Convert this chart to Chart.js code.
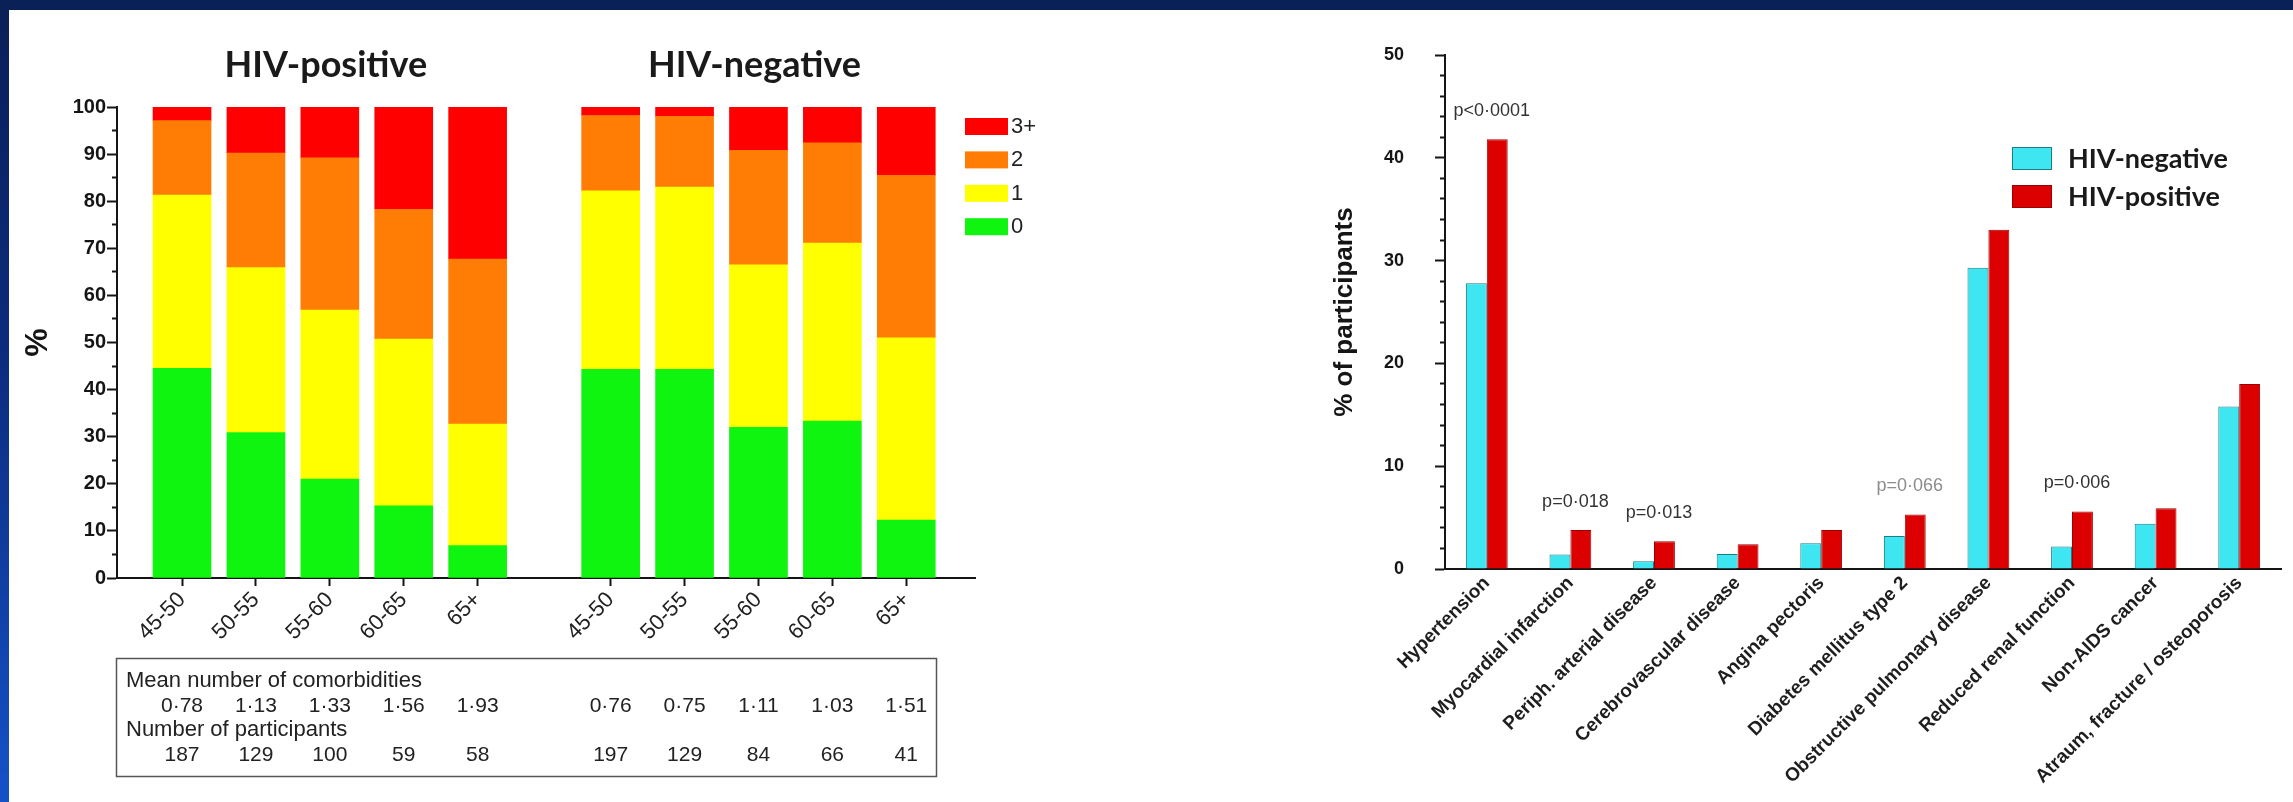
<!DOCTYPE html>
<html>
<head>
<meta charset="utf-8">
<script src="https://cdn.jsdelivr.net/npm/chart.js@4.4.1/dist/chart.umd.min.js"></script>
<style>
html,body{margin:0;padding:0;width:2293px;height:802px;overflow:hidden;}
body{position:relative;background:linear-gradient(to bottom,#0a1f57 0%,#0c2c7e 45%,#1552c8 100%);}
#topband{position:absolute;left:0;top:0;width:2293px;height:10px;background:#0a2157;}
#panel{position:absolute;left:9px;top:10px;right:0;bottom:0;background:#ffffff;}
#left{position:absolute;left:0;top:0;}
#right{position:absolute;left:1300px;top:0;}
</style>
</head>
<body>
<div id="topband"></div>
<div id="panel"></div>
<canvas id="left" width="1100" height="802"></canvas>
<canvas id="right" width="993" height="802"></canvas>
<script>
// ---------------- DATA: left chart (number of comorbidities by age group) ----------------
const ageGroups = ['45-50', '50-55', '55-60', '60-65', '65+'];
const cohorts = ['HIV-positive', 'HIV-negative'];
const comorbidityLevels = ['0', '1', '2', '3+'];
// % of participants with 0 / 1 / 2 / 3+ comorbidities
const hivPosLevel0 = [44.5, 30.9, 21.0, 15.3, 6.9];
const hivPosLevel1 = [36.8, 35.0, 35.9, 35.4, 25.8];
const hivPosLevel2 = [15.8, 24.3, 32.3, 27.6, 35.0];
const hivPosLevel3 = [2.9, 9.8, 10.8, 21.7, 32.3];
const hivNegLevel0 = [44.3, 44.3, 32.0, 33.3, 12.3];
const hivNegLevel1 = [37.9, 38.7, 34.5, 37.8, 38.7];
const hivNegLevel2 = [16.0, 15.0, 24.3, 21.3, 34.5];
const hivNegLevel3 = [1.8, 2.0, 9.2, 7.6, 14.5];
// table under the chart
const meanRowLabel = 'Mean number of comorbidities';
const countRowLabel = 'Number of participants';
const hivPosMean = ['0·78', '1·13', '1·33', '1·56', '1·93'];
const hivNegMean = ['0·76', '0·75', '1·11', '1·03', '1·51'];
const hivPosCount = [187, 129, 100, 59, 58];
const hivNegCount = [197, 129, 84, 66, 41];
const leftYTicks = [0, 10, 20, 30, 40, 50, 60, 70, 80, 90, 100];

// ---------------- DATA: right chart (prevalence of comorbidities) ----------------
const conditions = ['Hypertension', 'Myocardial infarction', 'Periph. arterial disease',
  'Cerebrovascular disease', 'Angina pectoris', 'Diabetes mellitus type 2',
  'Obstructive pulmonary disease', 'Reduced renal function', 'Non-AIDS cancer',
  'Atraum, fracture / osteoporosis'];
const hivNegPct = [27.8, 1.4, 0.75, 1.45, 2.5, 3.2, 29.3, 2.2, 4.4, 15.8];
const hivPosPct = [41.8, 3.8, 2.7, 2.4, 3.8, 5.3, 33.0, 5.6, 5.9, 18.0];
const pValues = ['p<0·0001', 'p=0·018', 'p=0·013', '', '', 'p=0·066', '', 'p=0·006', '', ''];
const rightYTicks = [0, 10, 20, 30, 40, 50];

// ---------------- STYLE ----------------
Chart.defaults.font.family = "'Liberation Sans', Arial, sans-serif";
const levelColors = ['#10f510', '#ffff00', '#ff7d04', '#ff0000'];
const INK = '#151515';
const GROUP_GAP = 0.8;
const xPos = (g, i) => g * (ageGroups.length + GROUP_GAP) + i + 1;

const levelSeries = [
  [hivPosLevel0, hivNegLevel0],
  [hivPosLevel1, hivNegLevel1],
  [hivPosLevel2, hivNegLevel2],
  [hivPosLevel3, hivNegLevel3]
];
const leftTickValues = [];
const leftTickLabels = [];
cohorts.forEach((c, g) => ageGroups.forEach((a, i) => { leftTickValues.push(xPos(g, i)); leftTickLabels.push(a); }));

const minorDash = (ctx, major) => (ctx.tick && ctx.tick.value % major !== 0) ? [0, 5, 5, 100] : [];

const leftDecor = {
  id: 'leftDecor',
  afterDraw(chart) {
    const { ctx } = chart;
    const x = chart.scales.x;
    ctx.save();
    // cohort titles
    ctx.font = "bold 36px Lato, 'Liberation Sans', sans-serif";
    ctx.fillStyle = '#1a1a1a';
    ctx.textAlign = 'center';
    ctx.textBaseline = 'alphabetic';
    cohorts.forEach((name, g) => {
      const cx = (x.getPixelForValue(xPos(g, 0)) + x.getPixelForValue(xPos(g, ageGroups.length - 1))) / 2;
      ctx.fillText(name, cx - 4, 77);
    });
    // legend (3+ on top)
    ctx.font = "22px 'Liberation Sans', Arial, sans-serif";
    ctx.textAlign = 'left';
    ctx.textBaseline = 'middle';
    const ds = chart.data.datasets.slice().reverse();
    ds.forEach((d, k) => {
      const top = 118 + k * 33.4;
      ctx.fillStyle = d.backgroundColor;
      ctx.fillRect(965, top, 43, 17);
      ctx.fillStyle = '#222';
      ctx.fillText(d.label, 1011, top + 9);
    });
    // table
    ctx.strokeStyle = '#555';
    ctx.lineWidth = 1.5;
    ctx.strokeRect(116.5, 658.5, 820, 118);
    ctx.fillStyle = '#222';
    ctx.font = "22px 'Liberation Sans', Arial, sans-serif";
    ctx.textAlign = 'left';
    ctx.fillText(meanRowLabel, 126, 681);
    ctx.fillText(countRowLabel, 126, 730);
    ctx.textAlign = 'center';
    ctx.font = "21px 'Liberation Sans', Arial, sans-serif";
    const means = [hivPosMean, hivNegMean];
    const counts = [hivPosCount, hivNegCount];
    cohorts.forEach((c, g) => ageGroups.forEach((a, i) => {
      const px = x.getPixelForValue(xPos(g, i));
      ctx.fillText(means[g][i], px, 706);
      ctx.fillText(String(counts[g][i]), px, 755);
    }));
    ctx.restore();
  }
};

new Chart(document.getElementById('left'), {
  type: 'bar',
  data: {
    datasets: comorbidityLevels.map((lvl, k) => ({
      label: lvl,
      data: cohorts.flatMap((c, g) => levelSeries[k][g].map((v, i) => ({ x: xPos(g, i), y: v }))),
      backgroundColor: levelColors[k],
      borderWidth: 0,
      barThickness: 58
    }))
  },
  options: {
    responsive: false,
    animation: false,
    layout: { padding: { top: 107, right: 125, bottom: 0, left: 0 } },
    plugins: { legend: { display: false }, tooltip: { enabled: false } },
    scales: {
      x: {
        type: 'linear', stacked: true, min: 0.12, max: 11.73, offset: false,
        afterBuildTicks: a => { a.ticks = leftTickValues.map(v => ({ value: v })); },
        afterFit: s => { s.height = 224; },
        grid: { offset: false, drawOnChartArea: false, drawTicks: true, tickLength: 8, tickColor: INK, tickWidth: 2 },
        border: { display: true, color: INK, width: 2 },
        ticks: { autoSkip: false, minRotation: 45, maxRotation: 45, padding: 1, color: '#222',
          font: { size: 22 }, callback: (v, i) => leftTickLabels[i] }
      },
      y: {
        stacked: true, min: 0, max: 100,
        afterBuildTicks: a => { const t = []; for (let v = 0; v <= 100; v += 5) t.push({ value: v }); a.ticks = t; },
        afterFit: s => { s.width = 117; },
        ticks: { autoSkip: false, padding: 1, color: INK, font: { size: 20, weight: 'bold' },
          callback: v => leftYTicks.includes(v) ? String(v) : '' },
        grid: { drawOnChartArea: false, tickLength: 10, tickColor: INK, tickWidth: 2,
          tickBorderDash: ctx => minorDash(ctx, 10) },
        border: { color: INK, width: 2 },
        title: { display: true, text: '%', color: INK, font: { size: 32, weight: 'bold' }, padding: { top: 19, bottom: 0 } }
      }
    }
  },
  plugins: [leftDecor]
});

// ---------------- RIGHT CHART ----------------
const rightDecor = {
  id: 'rightDecor',
  afterDraw(chart) {
    const { ctx } = chart;
    const x = chart.scales.x, y = chart.scales.y;
    ctx.save();
    // p-values
    ctx.font = "18px 'Liberation Sans', Arial, sans-serif";
    ctx.textAlign = 'center';
    ctx.textBaseline = 'middle';
    pValues.forEach((p, i) => {
      if (!p) return;
      const num = parseFloat(p.slice(2).replace('·', '.'));
      ctx.fillStyle = num > 0.05 ? '#8c8c8c' : '#333';
      const top = y.getPixelForValue(Math.max(hivNegPct[i], hivPosPct[i]));
      ctx.fillText(p, x.getPixelForValue(i) + 5, top - 28);
    });
    // legend
    ctx.font = "bold 27px Lato, 'Liberation Sans', sans-serif";
    ctx.textAlign = 'left';
    chart.data.datasets.forEach((d, k) => {
      const top = 147 + k * 38;
      ctx.fillStyle = d.backgroundColor;
      ctx.fillRect(712, top, 40, 23);
      ctx.strokeStyle = d.borderColor;
      ctx.lineWidth = 1;
      ctx.strokeRect(712.5, top + 0.5, 39, 22);
      ctx.fillStyle = '#1a1a1a';
      ctx.fillText(d.label, 768, top + 12);
    });
    ctx.restore();
  }
};

new Chart(document.getElementById('right'), {
  type: 'bar',
  data: {
    labels: conditions,
    datasets: [
      { label: 'HIV-negative', data: hivNegPct, backgroundColor: '#3ee6f2', borderColor: '#1d7d86', borderWidth: 1,
        borderSkipped: 'bottom', categoryPercentage: 0.5, barPercentage: 1.0 },
      { label: 'HIV-positive', data: hivPosPct, backgroundColor: '#dd0000', borderColor: '#9c0000', borderWidth: 1,
        borderSkipped: 'bottom', categoryPercentage: 0.5, barPercentage: 1.0 }
    ]
  },
  options: {
    responsive: false,
    animation: false,
    layout: { padding: { top: 55, right: 12, bottom: 0, left: 0 } },
    plugins: { legend: { display: false }, tooltip: { enabled: false } },
    scales: {
      x: {
        afterFit: s => { s.height = 233; },
        grid: { drawOnChartArea: false, drawTicks: false },
        border: { display: true, color: INK, width: 2 },
        ticks: { autoSkip: false, minRotation: 45, maxRotation: 45, padding: 3, color: '#1e1e1e',
          font: { size: 19, weight: 'bold' } }
      },
      y: {
        min: 0, max: 50,
        afterBuildTicks: a => { const t = []; for (let v = 0; v <= 50; v += 2) t.push({ value: v }); a.ticks = t; },
        afterFit: s => { s.width = 145; },
        ticks: { autoSkip: false, padding: 31, color: INK, font: { size: 18, weight: 'bold' },
          callback: v => rightYTicks.includes(v) ? String(v) : '' },
        grid: { drawOnChartArea: false, tickLength: 10, tickColor: INK, tickWidth: 2,
          tickBorderDash: ctx => minorDash(ctx, 10) },
        border: { color: INK, width: 2 },
        title: { display: true, text: '% of participants', color: INK, font: { size: 26, weight: 'bold' },
          padding: { top: 29, bottom: 0 } }
      }
    }
  },
  plugins: [rightDecor]
});
</script>
</body>
</html>
